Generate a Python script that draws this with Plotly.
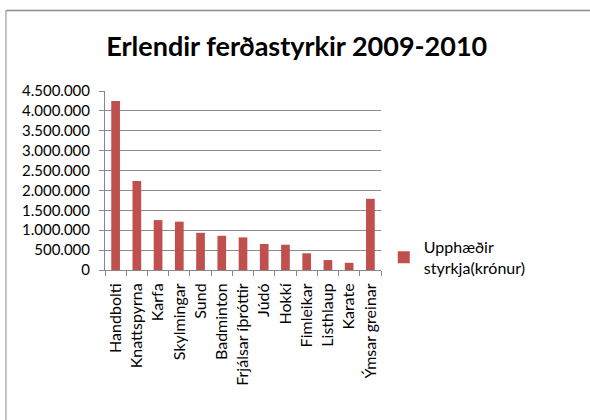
import plotly.graph_objects as go

# Greinar og upphæðir styrkja (krónur)
categories = ["Handbolti", "Knattspyrna", "Karfa", "Skylmingar", "Sund",
              "Badminton", "Frjálsar íþróttir", "Júdó", "Hokkí", "Fimleikar",
              "Listhlaup", "Karate", "Ýmsar greinar"]
amounts = [4250000, 2235000, 1255000, 1215000, 935000, 860000, 820000,
           655000, 635000, 420000, 250000, 180000, 1790000]
y_ticks = [0, 500000, 1000000, 1500000, 2000000, 2500000, 3000000,
           3500000, 4000000, 4500000]

font = "Lato"

fig = go.Figure()
fig.add_trace(go.Bar(x=categories, y=amounts, name="Upphæðir<br>styrkja(krónur)",
                     marker_color="#C0504D", marker_line_width=0))

# Frame around the chart (only top/left edges visible in the crop)
fig.add_shape(type="line", xref="paper", yref="paper",
              x0=-0.359, x1=2, y0=1.45, y1=1.45,
              line=dict(color="#8c8c8c", width=1.5))
fig.add_shape(type="line", xref="paper", yref="paper",
              x0=-0.359, x1=-0.359, y0=1.45, y1=-2,
              line=dict(color="#b0b0b0", width=1.5))

fig.update_layout(
    width=590, height=420,
    margin=dict(l=105, r=209, t=91, b=150),
    paper_bgcolor="white", plot_bgcolor="white",
    separators=",.",
    bargap=0.59,
    title=dict(text="<b>Erlendir ferðastyrkir 2009-2010</b>",
               x=0.503, xanchor="center", y=0.89, yanchor="middle",
               font=dict(family=font, size=27, color="black")),
    showlegend=True,
    legend=dict(x=1.01, xanchor="left", y=0.07, yanchor="middle",
                font=dict(family=font, size=16, color="black"),
                itemwidth=30, tracegroupgap=0),
    font=dict(family=font, color="black"),
)
fig.update_xaxes(tickangle=-90, tickfont=dict(family=font, size=16),
                 automargin=False, ticklabelstandoff=6,
                 showline=True, linecolor="#888888", linewidth=1,
                 ticks="outside", tickson="boundaries", ticklen=5,
                 tickcolor="#888888", showgrid=False)
fig.update_yaxes(range=[0, 4500000], tickvals=y_ticks, tickformat=",d",
                 tickfont=dict(family=font, size=15), automargin=False,
                 ticklabelstandoff=6,
                 showline=True, linecolor="#888888", linewidth=1,
                 ticks="outside", ticklen=5, tickcolor="#888888",
                 showgrid=True, gridcolor="#8c8c8c", gridwidth=1,
                 zeroline=False)

fig.write_html("out.html", config={"displayModeBar": False},
               post_script="document.body.style.margin='0';")
